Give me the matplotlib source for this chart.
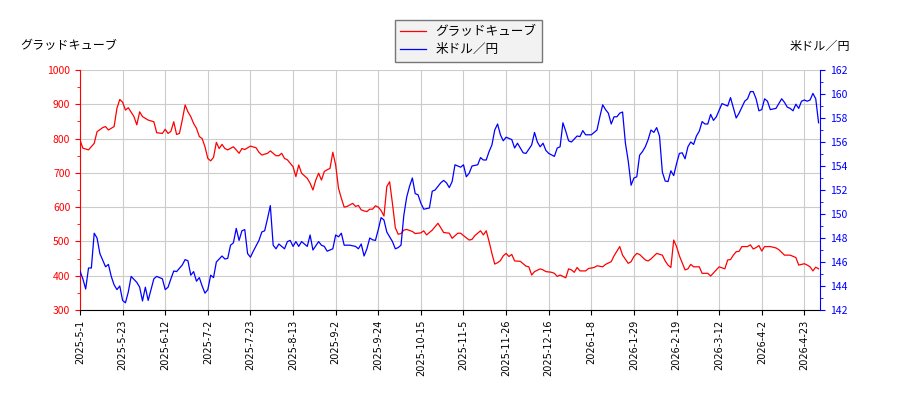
import matplotlib
matplotlib.use("Agg")
import matplotlib.pyplot as plt
from matplotlib.ticker import MultipleLocator

plt.rcParams['font.family'] = ['Noto Sans CJK JP', 'DejaVu Sans']

# (trading day index, close)
stock = [(0,796),(1,772),(3,767),(5,786),(6,820),(8,832),(9,835),(10,825),(12,835),(13,888),(14,914),(15,906),(16,883),
         (17,890),(19,864),(20,840),(21,878),(22,864),(24,854),(26,849),(27,817),(29,815),(30,827),(31,815),(32,821),(33,849),
         (34,812),(35,815),(36,854),(37,898),(38,878),(39,864),(40,844),(41,830),(42,806),(43,800),(44,776),(45,742),(46,735),
         (47,745),(48,789),(49,771),(50,783),(51,771),(52,767),(54,776),(55,767),(56,757),(57,771),(58,768),(60,778),(62,773),
         (63,760),(64,752),(66,757),(67,764),(69,750),(70,750),(71,757),(72,742),(73,738),(75,718),(76,689),(77,723),(78,699),
         (80,684),(81,670),(82,650),(83,679),(84,699),(85,679),(86,704),(87,709),(88,713),(89,760),(90,723),(91,655),(92,626),
         (93,600),(94,602),(96,611),(97,602),(98,605),(99,592),(100,589),(101,587),(102,594),(103,594),(104,604),(105,600),
         (106,590),(107,574),(108,660),(109,674),(110,610),(111,540),(112,521),(113,523),(114,533),(115,535),(117,529),
         (118,523),(120,525),(121,531),(122,519),(124,533),(126,553),(127,540),(128,526),(130,524),(131,509),(133,524),
         (134,524),(135,517),(137,504),(138,506),(139,517),(141,531),(142,519),(143,531),(144,500),(145,465),(146,434),
         (147,438),(148,444),(149,458),(150,465),(151,456),(152,462),(153,443),(155,442),(157,428),(158,426),(159,402),
         (160,412),(162,420),(163,417),(164,412),(166,410),(167,407),(168,398),(169,402),(171,394),(172,420),(173,417),
         (174,410),(175,424),(176,414),(178,414),(179,421),(181,424),(182,429),(184,426),(185,433),(187,441),(188,458),
         (190,485),(191,460),(193,436),(194,441),(195,456),(196,465),(197,462),(199,446),(200,443),(201,449),(203,465),
         (205,460),(206,443),(207,431),(208,424),(209,504),(210,485),(211,458),(213,417),(214,420),(215,433),(216,426),
         (218,426),(219,407),(221,407),(222,399),(224,417),(225,426),(227,420),(228,446),(229,447),(230,460),(231,470),
         (232,471),(233,485),(234,485),(235,485),(236,490),(237,478),(238,482),(239,488),(240,472),(241,485),(243,485),
         (245,481),(246,476),(248,460),(250,460),(252,453),(253,431),(255,435),(256,431),(257,426),(258,414),(259,425),(260,420)]

# (trading day index, USD/JPY)
usdjpy = [(0,145.25),(1,144.6),(2,143.75),(3,145.5),(4,145.5),(5,148.4),(6,148.0),(7,146.7),(9,145.6),(10,145.8),(11,144.8),
          (12,144.1),(13,143.7),(14,144.0),(15,142.8),(16,142.6),(17,143.5),(18,144.8),(20,144.3),(21,143.9),(22,142.75),
          (23,143.9),(24,142.8),(25,143.7),(26,144.6),(27,144.8),(28,144.7),(29,144.6),(30,143.7),(31,143.9),(32,144.6),
          (33,145.25),(34,145.2),(36,145.75),(37,146.2),(38,146.1),(39,144.9),(40,145.2),(41,144.4),(42,144.7),(43,144.0),
          (44,143.4),(45,143.7),(46,144.9),(47,144.7),(48,146.0),(50,146.5),(51,146.25),(52,146.3),(53,147.4),(54,147.6),
          (55,148.8),(56,147.8),(57,148.6),(58,148.7),(59,146.7),(60,146.4),(61,146.9),(63,147.8),(64,148.5),(65,148.6),
          (66,149.6),(67,150.7),(68,147.4),(69,147.1),(70,147.5),(72,147.1),(73,147.7),(74,147.8),(75,147.3),(76,147.7),
          (77,147.3),(78,147.7),(79,147.5),(80,147.3),(81,148.25),(82,147.0),(84,147.7),(85,147.4),(86,147.3),(87,146.9),
          (89,147.1),(90,148.25),(91,148.1),(92,148.4),(93,147.4),(95,147.4),(97,147.3),(98,147.1),(99,147.5),(100,146.5),
          (101,147.1),(102,148.0),(103,147.85),(104,147.8),(105,148.7),(106,149.7),(107,149.5),(108,148.5),(110,147.7),
          (111,147.1),(112,147.2),(113,147.4),(114,149.9),(115,151.4),(116,152.3),(117,153.0),(118,151.7),(119,151.6),
          (120,150.9),(121,150.4),(123,150.5),(124,151.9),(125,152.0),(127,152.6),(128,152.8),(129,152.6),(130,152.2),
          (131,152.7),(132,154.1),(134,153.9),(135,154.1),(136,153.1),(137,153.4),(138,154.0),(140,154.1),(141,154.7),
          (142,154.5),(143,154.5),(144,155.2),(145,155.75),(146,157.0),(147,157.5),(148,156.6),(149,156.1),(150,156.4),
          (152,156.2),(153,155.5),(154,155.9),(156,155.1),(157,155.05),(159,155.75),(160,156.8),(161,156.0),(162,155.6),
          (163,155.9),(164,155.3),(165,155.05),(167,154.8),(168,155.5),(169,155.6),(170,157.6),(171,156.9),(172,156.1),
          (173,156.0),(175,156.5),(176,156.45),(177,156.95),(178,156.6),(180,156.6),(181,156.8),(182,157.0),(183,158.1),
          (184,159.1),(185,158.7),(186,158.4),(187,157.5),(188,158.1),(189,158.1),(190,158.4),(191,158.5),(192,155.9),
          (193,154.4),(194,152.4),(195,153.0),(196,153.1),(197,154.9),(198,155.2),(199,155.6),(200,156.2),(201,157.0),
          (202,156.8),(203,157.2),(204,156.5),(205,153.5),(206,152.75),(207,152.7),(208,153.6),(209,153.2),(210,154.2),
          (211,155.05),(212,155.1),(213,154.6),(214,155.6),(215,156.0),(216,155.8),(217,156.5),(218,156.9),(219,157.7),
          (220,157.5),(221,157.5),(222,158.3),(223,157.8),(224,158.1),(226,159.2),(227,159.1),(228,159.0),(229,159.7),
          (231,158.0),(232,158.4),(233,158.9),(234,159.4),(235,159.6),(236,160.2),(237,160.2),(238,159.6),(239,158.6),
          (240,158.7),(241,159.6),(242,159.4),(243,158.7),(245,158.8),(247,159.6),(248,159.3),(249,158.9),(250,158.8),
          (251,158.6),(252,159.15),(253,158.8),(254,159.4),(255,159.5),(256,159.4),(257,159.5),(258,160.05),(259,159.6),
          (260,157.6)]

tick_labels = ['2025-5-1', '2025-5-23', '2025-6-12', '2025-7-2', '2025-7-23', '2025-8-13', '2025-9-2',
               '2025-9-24', '2025-10-15', '2025-11-5', '2025-11-26', '2025-12-16', '2026-1-8', '2026-1-29',
               '2026-2-19', '2026-3-12', '2026-4-2', '2026-4-23']
tick_step = 15

stock_name = 'グラッドキューブ'
fx_name = '米ドル／円'

fig = plt.figure(figsize=(9, 4), dpi=100)
ax = fig.add_axes([80/900, 90/400, 740/900, 240/400])
ax2 = ax.twinx()

sx, sy = zip(*stock)
fx, fy = zip(*usdjpy)
l1, = ax.plot(sx, sy, color='red', lw=0.9, label=stock_name)
l2, = ax2.plot(fx, fy, color='blue', lw=0.9, label=fx_name)

ax.set_xlim(0, 260.5)
ax.set_ylim(300, 1000)
ax2.set_ylim(142, 162)

ax.set_xticks([i * tick_step for i in range(len(tick_labels))])
ax.set_xticklabels(tick_labels, rotation=90, fontsize=7, family='DejaVu Sans')
ax.yaxis.set_major_locator(MultipleLocator(100))
ax.yaxis.set_minor_locator(MultipleLocator(50))
ax2.yaxis.set_major_locator(MultipleLocator(2))
ax2.yaxis.set_minor_locator(MultipleLocator(1))

ax.grid(True, color='#cccccc', lw=0.8)
ax.set_axisbelow(True)

ax.tick_params(axis='y', colors='red', labelsize=7.5)
ax.tick_params(axis='y', which='minor', colors='red')
ax2.tick_params(axis='y', colors='blue', labelsize=7.5)
ax2.tick_params(axis='y', which='minor', colors='blue')
ax.tick_params(axis='x', labelsize=7)

for a in (ax, ax2):
    a.spines['top'].set_visible(False)
ax.spines['right'].set_visible(False)
ax2.spines['left'].set_visible(False)
ax.spines['left'].set_color('red')
ax2.spines['right'].set_color('blue')
ax2.spines['bottom'].set_visible(False)

fig.text(20/900, 1 - 46/400, stock_name, fontsize=8.7, ha='left', va='center')
fig.text(850/900, 1 - 46/400, fx_name, fontsize=8.7, ha='right', va='center')

leg = fig.legend([l1, l2], [stock_name, fx_name], loc='upper center', bbox_to_anchor=(0.5206, 0.967),
                 fontsize=9.1, fancybox=False, edgecolor='#777777', facecolor='#f2f2f2', framealpha=1,
                 handlelength=2, borderpad=0.45, labelspacing=0.4)

fig.savefig('out.png', dpi=100)
